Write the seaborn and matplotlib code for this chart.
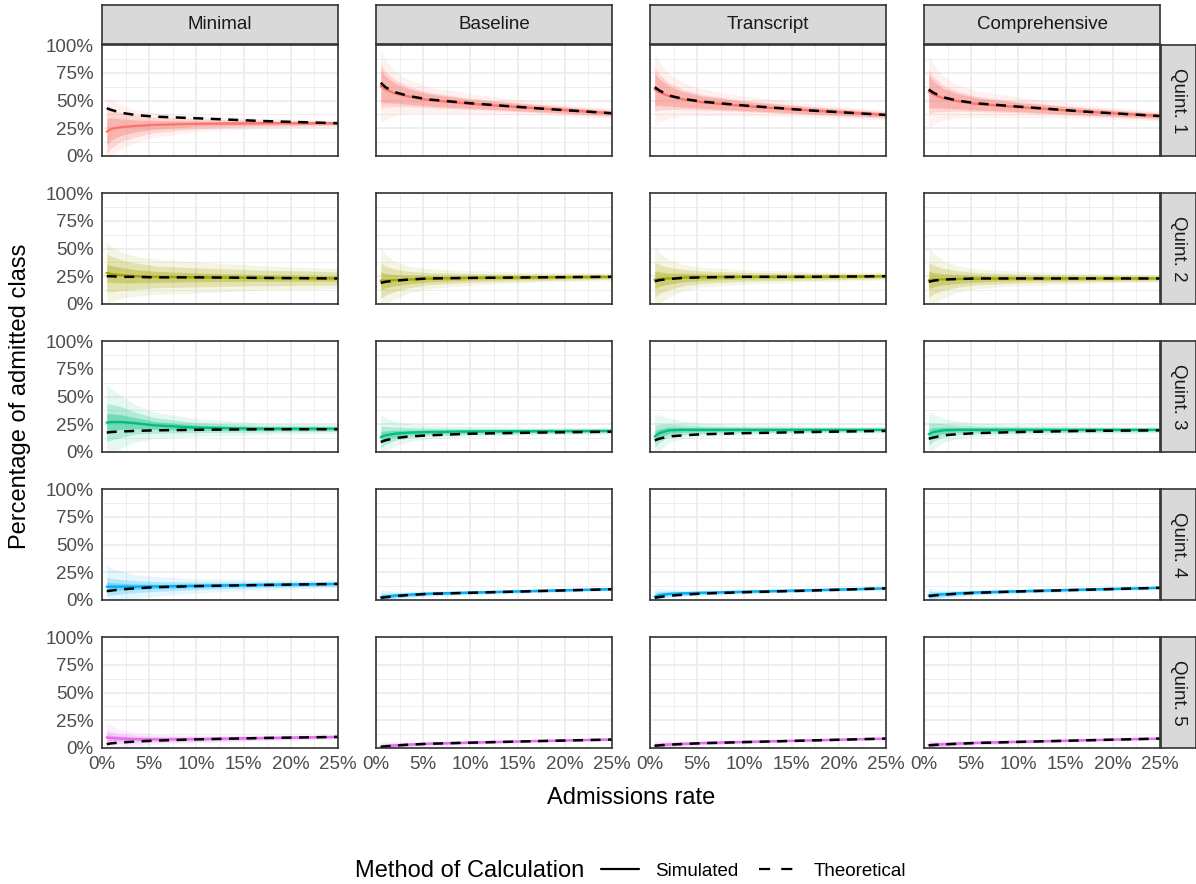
import numpy as np
import pandas as pd
import matplotlib
matplotlib.use("Agg")
import matplotlib.pyplot as plt
import seaborn as sns
from matplotlib.lines import Line2D
from matplotlib.ticker import FixedLocator, PercentFormatter

sns.set_style("white")
plt.rcParams["font.family"] = ["Liberation Sans", "DejaVu Sans"]

# Facets and colours
methods = ["Minimal", "Baseline", "Transcript", "Comprehensive"]
quintiles = ["Quint. 1", "Quint. 2", "Quint. 3", "Quint. 4", "Quint. 5"]
palette = ["#F8766D", "#A3A500", "#00BF7D", "#00B0F6", "#E76BF3"]

# Admissions rate grid
x_rate = [0.005, 0.01, 0.02, 0.035, 0.055, 0.10, 0.17, 0.25]

# Theoretical share per quintile / method
theo_q1 = {"Minimal": [0.43, 0.415, 0.39, 0.37, 0.355, 0.34, 0.315, 0.295],
           "Baseline": [0.66, 0.62, 0.575, 0.54, 0.51, 0.475, 0.43, 0.385],
           "Transcript": [0.62, 0.59, 0.545, 0.515, 0.49, 0.455, 0.41, 0.37],
           "Comprehensive": [0.60, 0.57, 0.53, 0.50, 0.475, 0.445, 0.40, 0.36]}
theo_q2 = {"Minimal": [0.25, 0.25, 0.245, 0.245, 0.24, 0.24, 0.235, 0.23],
           "Baseline": [0.19, 0.20, 0.21, 0.22, 0.23, 0.235, 0.24, 0.245],
           "Transcript": [0.205, 0.215, 0.225, 0.235, 0.24, 0.245, 0.245, 0.25],
           "Comprehensive": [0.20, 0.21, 0.22, 0.225, 0.23, 0.23, 0.23, 0.23]}
theo_q3 = {"Minimal": [0.175, 0.18, 0.185, 0.19, 0.195, 0.20, 0.205, 0.205],
           "Baseline": [0.09, 0.105, 0.125, 0.14, 0.15, 0.165, 0.175, 0.183],
           "Transcript": [0.105, 0.12, 0.14, 0.15, 0.16, 0.17, 0.18, 0.19],
           "Comprehensive": [0.12, 0.13, 0.15, 0.16, 0.17, 0.18, 0.19, 0.195]}
theo_q4 = {"Minimal": [0.08, 0.085, 0.095, 0.105, 0.115, 0.125, 0.135, 0.145],
           "Baseline": [0.02, 0.025, 0.035, 0.045, 0.055, 0.065, 0.08, 0.097],
           "Transcript": [0.02, 0.027, 0.038, 0.048, 0.058, 0.07, 0.085, 0.105],
           "Comprehensive": [0.035, 0.04, 0.048, 0.056, 0.065, 0.077, 0.092, 0.11]}
theo_q5 = {"Minimal": [0.035, 0.042, 0.05, 0.058, 0.066, 0.078, 0.09, 0.10],
           "Baseline": [0.01, 0.015, 0.022, 0.03, 0.038, 0.048, 0.062, 0.076],
           "Transcript": [0.02, 0.024, 0.03, 0.036, 0.043, 0.053, 0.068, 0.085],
           "Comprehensive": [0.024, 0.027, 0.032, 0.038, 0.045, 0.055, 0.069, 0.085]}

# Simulated median share
sim_q1 = {"Minimal": [0.22, 0.245, 0.26, 0.27, 0.28, 0.29, 0.295, 0.295],
          "Baseline": [0.63, 0.60, 0.565, 0.535, 0.505, 0.47, 0.43, 0.385],
          "Transcript": [0.60, 0.575, 0.54, 0.51, 0.485, 0.45, 0.41, 0.37],
          "Comprehensive": [0.58, 0.555, 0.52, 0.495, 0.47, 0.44, 0.40, 0.36]}
sim_q2 = {"Minimal": [0.28, 0.27, 0.26, 0.25, 0.245, 0.24, 0.235, 0.23],
          "Baseline": [0.21, 0.21, 0.215, 0.22, 0.228, 0.235, 0.24, 0.245],
          "Transcript": [0.22, 0.225, 0.23, 0.238, 0.242, 0.245, 0.245, 0.25],
          "Comprehensive": [0.215, 0.22, 0.222, 0.225, 0.228, 0.23, 0.23, 0.23]}
sim_q3 = {"Minimal": [0.265, 0.27, 0.27, 0.26, 0.24, 0.22, 0.21, 0.21],
          "Baseline": [0.135, 0.15, 0.165, 0.175, 0.18, 0.185, 0.188, 0.19],
          "Transcript": [0.14, 0.17, 0.195, 0.20, 0.20, 0.20, 0.20, 0.20],
          "Comprehensive": [0.16, 0.18, 0.195, 0.20, 0.20, 0.20, 0.20, 0.20]}
sim_q4 = {"Minimal": [0.12, 0.12, 0.12, 0.12, 0.122, 0.128, 0.137, 0.145],
          "Baseline": [0.025, 0.03, 0.04, 0.048, 0.057, 0.067, 0.082, 0.098],
          "Transcript": [0.03, 0.045, 0.055, 0.06, 0.065, 0.075, 0.088, 0.105],
          "Comprehensive": [0.04, 0.045, 0.052, 0.06, 0.068, 0.079, 0.094, 0.11]}
sim_q5 = {"Minimal": [0.095, 0.09, 0.085, 0.08, 0.078, 0.08, 0.09, 0.10],
          "Baseline": [0.012, 0.017, 0.024, 0.031, 0.039, 0.049, 0.063, 0.077],
          "Transcript": [0.022, 0.026, 0.032, 0.038, 0.045, 0.055, 0.069, 0.085],
          "Comprehensive": [0.026, 0.029, 0.034, 0.04, 0.047, 0.056, 0.07, 0.085]}

# Half-widths of the 95 / 80 / 50 % simulation bands
spread_min_q1 = [[0.30, 0.26, 0.20, 0.15, 0.11, 0.07, 0.045, 0.03],
                 [0.20, 0.17, 0.13, 0.10, 0.07, 0.045, 0.03, 0.02],
                 [0.12, 0.10, 0.075, 0.055, 0.04, 0.025, 0.017, 0.012]]
spread_oth_q1 = [[0.33, 0.27, 0.20, 0.15, 0.12, 0.09, 0.06, 0.045],
                 [0.20, 0.16, 0.12, 0.09, 0.07, 0.05, 0.038, 0.03],
                 [0.15, 0.12, 0.09, 0.07, 0.055, 0.04, 0.03, 0.02]]
spread_min_q2 = [[0.28, 0.25, 0.21, 0.18, 0.16, 0.14, 0.11, 0.09],
                 [0.17, 0.16, 0.14, 0.12, 0.10, 0.085, 0.07, 0.06],
                 [0.08, 0.075, 0.07, 0.06, 0.05, 0.04, 0.03, 0.025]]
spread_oth_q2 = [[0.30, 0.24, 0.17, 0.12, 0.09, 0.065, 0.045, 0.035],
                 [0.16, 0.13, 0.10, 0.075, 0.055, 0.04, 0.03, 0.022],
                 [0.08, 0.065, 0.05, 0.04, 0.03, 0.02, 0.015, 0.011]]
spread_min_q3 = [[0.34, 0.30, 0.24, 0.17, 0.12, 0.08, 0.05, 0.04],
                 [0.17, 0.16, 0.14, 0.10, 0.07, 0.045, 0.03, 0.025],
                 [0.08, 0.075, 0.065, 0.05, 0.035, 0.022, 0.015, 0.012]]
spread_oth_q3 = [[0.20, 0.16, 0.11, 0.08, 0.06, 0.045, 0.035, 0.03],
                 [0.10, 0.08, 0.06, 0.045, 0.035, 0.028, 0.022, 0.018],
                 [0.05, 0.04, 0.03, 0.022, 0.018, 0.014, 0.011, 0.009]]
spread_min_q4 = [[0.19, 0.17, 0.14, 0.11, 0.09, 0.065, 0.045, 0.035],
                 [0.08, 0.075, 0.065, 0.055, 0.045, 0.035, 0.025, 0.02],
                 [0.04, 0.035, 0.03, 0.025, 0.02, 0.016, 0.012, 0.01]]
spread_oth_q4 = [[0.07, 0.055, 0.04, 0.03, 0.025, 0.02, 0.018, 0.016],
                 [0.04, 0.032, 0.025, 0.02, 0.017, 0.014, 0.012, 0.011],
                 [0.02, 0.016, 0.013, 0.011, 0.009, 0.008, 0.007, 0.006]]
spread_min_q5 = [[0.14, 0.11, 0.08, 0.06, 0.045, 0.035, 0.025, 0.02],
                 [0.065, 0.055, 0.045, 0.035, 0.028, 0.022, 0.017, 0.014],
                 [0.03, 0.026, 0.022, 0.018, 0.014, 0.011, 0.009, 0.008]]
spread_oth_q5 = [[0.05, 0.04, 0.03, 0.024, 0.02, 0.017, 0.015, 0.013],
                 [0.03, 0.025, 0.02, 0.016, 0.013, 0.011, 0.01, 0.009],
                 [0.015, 0.012, 0.01, 0.008, 0.007, 0.006, 0.005, 0.005]]

theo_all = [theo_q1, theo_q2, theo_q3, theo_q4, theo_q5]
sim_all = [sim_q1, sim_q2, sim_q3, sim_q4, sim_q5]
spread_min = [spread_min_q1, spread_min_q2, spread_min_q3, spread_min_q4, spread_min_q5]
spread_oth = [spread_oth_q1, spread_oth_q2, spread_oth_q3, spread_oth_q4, spread_oth_q5]

# Long table
rows = []
for qi, q in enumerate(quintiles):
    for m in methods:
        w = spread_min[qi] if m == "Minimal" else spread_oth[qi]
        for i, x in enumerate(x_rate):
            s = sim_all[qi][m][i]
            rows.append({"quint": q, "method": m, "rate": x,
                         "sim": s, "theo": theo_all[qi][m][i],
                         "lo95": max(s - w[0][i], 0), "hi95": s + w[0][i],
                         "lo80": max(s - w[1][i], 0), "hi80": s + w[1][i],
                         "lo50": max(s - w[2][i], 0), "hi50": s + w[2][i]})
df = pd.DataFrame(rows)

W, H = 1196, 884
fig = plt.figure(figsize=(W / 100, H / 100), dpi=100)


def px_axes(x, y, w, h):
    return fig.add_axes([x / W, 1 - (y + h) / H, w / W, h / H])


col_left = [102, 376, 650, 924]
row_top = [45, 193, 341, 489, 637]
pw, ph = 236, 111
border = "#333333"

for r, q in enumerate(quintiles):
    color = palette[r]
    for c, m in enumerate(methods):
        ax = px_axes(col_left[c], row_top[r], pw, ph)
        sub = df[(df.quint == q) & (df.method == m)]
        for lo, hi, a in [("lo95", "hi95", 0.10), ("lo80", "hi80", 0.22), ("lo50", "hi50", 0.35)]:
            ax.fill_between(sub["rate"], sub[lo], sub[hi], color=color, alpha=a, lw=0)
        sns.lineplot(data=sub, x="rate", y="sim", color=color, lw=1.7, ax=ax)
        sns.lineplot(data=sub, x="rate", y="theo", color="black", lw=1.8, ax=ax)
        ax.lines[-1].set_dashes([4, 3])

        ax.set_xlim(0, 0.25)
        ax.set_ylim(0, 1)
        ax.xaxis.set_major_locator(FixedLocator([0, 0.05, 0.10, 0.15, 0.20, 0.25]))
        ax.xaxis.set_minor_locator(FixedLocator([0.025, 0.075, 0.125, 0.175, 0.225]))
        ax.yaxis.set_major_locator(FixedLocator([0, 0.25, 0.5, 0.75, 1.0]))
        ax.yaxis.set_minor_locator(FixedLocator([0.125, 0.375, 0.625, 0.875]))
        ax.xaxis.set_major_formatter(PercentFormatter(1.0, decimals=0))
        ax.yaxis.set_major_formatter(PercentFormatter(1.0, decimals=0))
        ax.grid(which="major", color="#EBEBEB", lw=1.2)
        ax.grid(which="minor", color="#EBEBEB", lw=0.6)
        ax.set_axisbelow(True)
        for sp in ax.spines.values():
            sp.set_color(border)
            sp.set_linewidth(1.2)
        ax.set_xlabel("")
        ax.set_ylabel("")
        ax.tick_params(which="minor", length=0)
        ax.tick_params(which="major", direction="out", length=4, width=1,
                       color=border, labelcolor="#4D4D4D", labelsize=13.5, pad=2)
        if c != 0:
            ax.tick_params(axis="y", left=False, labelleft=False)
        if r != len(quintiles) - 1:
            ax.tick_params(axis="x", bottom=False, labelbottom=False)

# Facet strips
for c, m in enumerate(methods):
    sax = px_axes(col_left[c], 5, pw, 39)
    sax.set_facecolor("#D9D9D9")
    sax.set_xticks([])
    sax.set_yticks([])
    for sp in sax.spines.values():
        sp.set_color(border)
        sp.set_linewidth(1.2)
    sax.text(0.5, 0.5, m, ha="center", va="center", size=13.5, color="#1A1A1A",
             transform=sax.transAxes)

for r, q in enumerate(quintiles):
    sax = px_axes(1161, row_top[r], 35, ph)
    sax.set_facecolor("#D9D9D9")
    sax.set_xticks([])
    sax.set_yticks([])
    for sp in sax.spines.values():
        sp.set_color(border)
        sp.set_linewidth(1.2)
    sax.text(0.5, 0.5, q, ha="center", va="center", rotation=-90, size=13.5,
             color="#1A1A1A", transform=sax.transAxes)

# Axis titles
fig.text(20 / W, 1 - 396 / H, "Percentage of admitted class", rotation=90,
         ha="center", va="center", size=17, color="black")
fig.text(631 / W, 1 - 798 / H, "Admissions rate", ha="center", va="center",
         size=17, color="black")

# Legend
fig.text(355 / W, 1 - 871 / H, "Method of Calculation", ha="left", va="center",
         size=17, color="black")
handles = [Line2D([], [], color="black", lw=1.6),
           Line2D([], [], color="black", lw=1.6, dashes=[5, 5])]
fig.legend(handles, ["Simulated", "Theoretical"], ncol=2, loc="center left",
           bbox_to_anchor=(601 / W, 1 - 871 / H), frameon=False, fontsize=13.5,
           handlelength=2.0, handletextpad=0.9, columnspacing=1.1, borderpad=0,
           borderaxespad=0, labelcolor="black")

fig.savefig("out.png", dpi=100)
